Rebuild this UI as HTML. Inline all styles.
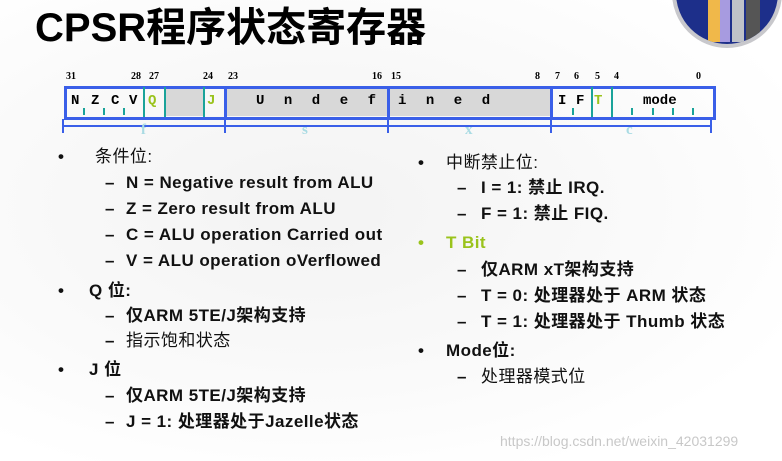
<!DOCTYPE html>
<html><head><meta charset="utf-8"><style>
body{margin:0;width:782px;height:461px;overflow:hidden;background:#fff;position:relative;font-family:"Liberation Sans","Noto Sans CJK SC",sans-serif;}
.a{position:absolute;white-space:nowrap;}
.t{font-size:17px;letter-spacing:0.45px;font-weight:bold;color:#111;line-height:20px;}
.n{font-family:"Liberation Serif",serif;font-size:10px;font-weight:bold;top:71px;}
.c{font-family:"Liberation Mono",monospace;font-size:14px;font-weight:bold;top:93px;}
.tk{position:absolute;width:2px;height:7px;background:#1aa39a;top:108px;}
.vl{position:absolute;width:2px;height:30px;background:#1aa39a;top:87px;}
.bl{position:absolute;width:3px;height:32px;background:#3a5fe8;top:86px;}
.fl{font-family:"Liberation Serif",serif;font-size:15px;font-weight:bold;color:#a9dbe3;top:122px;line-height:16px;}
</style></head><body>
<div style="position:absolute;left:0;top:0;width:782px;height:461px;background:radial-gradient(ellipse at 40% 45%,#f3f3f3 0%,#fafafa 50%,#fff 80%);"></div>
<div style="position:absolute;left:672px;top:-62px;width:102px;height:102px;border-radius:50%;background:#1d2f8a;border:4px solid #c8c8cc;overflow:hidden;">
<div style="position:absolute;left:32px;top:0;width:12px;height:100px;background:#f0b84a"></div>
<div style="position:absolute;left:44px;top:0;width:10px;height:100px;background:#a79be0"></div>
<div style="position:absolute;left:56px;top:0;width:12px;height:100px;background:#bfc2c8"></div>
<div style="position:absolute;left:70px;top:0;width:14px;height:100px;background:#555"></div>
</div>
<div class="a" style="left:35px;top:4px;font-size:40px;font-weight:bold;color:#000;line-height:48px;">CPSR程序状态寄存器</div>

<div style="position:absolute;left:165px;top:88px;width:39px;height:28px;background:#d8d8d8"></div>
<div style="position:absolute;left:227px;top:88px;width:325px;height:28px;background:#d8d8d8"></div>
<div style="position:absolute;left:64px;top:86px;width:646px;height:28px;border:3px solid #3a5fe8;"></div>
<div class="bl" style="left:224px"></div><div class="bl" style="left:387px"></div><div class="bl" style="left:550px"></div>
<div class="vl" style="left:143px"></div><div class="vl" style="left:164px"></div><div class="vl" style="left:203px"></div><div class="vl" style="left:591px"></div><div class="vl" style="left:611px"></div>
<div class="tk" style="left:83px"></div><div class="tk" style="left:103px"></div><div class="tk" style="left:123px"></div>
<div class="tk" style="left:572px"></div><div class="tk" style="left:631px"></div><div class="tk" style="left:652px"></div><div class="tk" style="left:672px"></div><div class="tk" style="left:692px"></div>

<div class="a n" style="left:66px">31</div><div class="a n" style="left:131px">28</div><div class="a n" style="left:149px">27</div><div class="a n" style="left:203px">24</div><div class="a n" style="left:228px">23</div><div class="a n" style="left:372px">16</div><div class="a n" style="left:391px">15</div><div class="a n" style="left:535px">8</div><div class="a n" style="left:555px">7</div><div class="a n" style="left:574px">6</div><div class="a n" style="left:595px">5</div><div class="a n" style="left:614px">4</div><div class="a n" style="left:696px">0</div>

<div class="a c" style="left:71px">N</div><div class="a c" style="left:91px">Z</div><div class="a c" style="left:111px">C</div><div class="a c" style="left:129px">V</div><div class="a c" style="left:148px;color:#9ac31c">Q</div><div class="a c" style="left:207px;color:#9ac31c">J</div>
<div class="a c" style="left:256px;letter-spacing:19.5px">Undef</div>
<div class="a c" style="left:398px;letter-spacing:19.5px">ined</div>
<div class="a c" style="left:558px">I</div><div class="a c" style="left:576px">F</div><div class="a c" style="left:594px;color:#9ac31c">T</div><div class="a c" style="left:643px">mode</div>

<div style="position:absolute;left:62px;top:125px;width:650px;height:2px;background:#3a5fe8"></div>
<div style="position:absolute;left:62px;top:119px;width:2px;height:14px;background:#3a5fe8"></div>
<div style="position:absolute;left:224px;top:119px;width:2px;height:14px;background:#3a5fe8"></div>
<div style="position:absolute;left:387px;top:119px;width:2px;height:14px;background:#3a5fe8"></div>
<div style="position:absolute;left:550px;top:119px;width:2px;height:14px;background:#3a5fe8"></div>
<div style="position:absolute;left:710px;top:119px;width:2px;height:14px;background:#3a5fe8"></div>
<div class="a fl" style="left:141px">f</div><div class="a fl" style="left:302px">s</div><div class="a fl" style="left:465px">x</div><div class="a fl" style="left:626px">c</div>

<div class="a t" style="left:58px;top:147px">•</div><div class="a t" style="left:95px;top:147px;font-weight:normal">条件位:</div>
<div class="a t" style="left:105px;top:173px">–</div><div class="a t" style="left:126px;top:173px">N = Negative result from ALU</div>
<div class="a t" style="left:105px;top:199px">–</div><div class="a t" style="left:126px;top:199px">Z = Zero result from ALU</div>
<div class="a t" style="left:105px;top:225px">–</div><div class="a t" style="left:126px;top:225px">C = ALU operation Carried out</div>
<div class="a t" style="left:105px;top:251px">–</div><div class="a t" style="left:126px;top:251px">V = ALU operation oVerflowed</div>
<div class="a t" style="left:58px;top:281px">•</div><div class="a t" style="left:89px;top:281px">Q 位:</div>
<div class="a t" style="left:105px;top:306px">–</div><div class="a t" style="left:126px;top:306px">仅ARM 5TE/J架构支持</div>
<div class="a t" style="left:105px;top:331px">–</div><div class="a t" style="left:126px;top:331px;font-weight:normal">指示饱和状态</div>
<div class="a t" style="left:58px;top:360px">•</div><div class="a t" style="left:89px;top:360px">J 位</div>
<div class="a t" style="left:105px;top:386px">–</div><div class="a t" style="left:126px;top:386px">仅ARM 5TE/J架构支持</div>
<div class="a t" style="left:105px;top:412px">–</div><div class="a t" style="left:126px;top:412px">J = 1:  处理器处于Jazelle状态</div>

<div class="a t" style="left:418px;top:153px">•</div><div class="a t" style="left:446px;top:153px;font-weight:normal">中断禁止位:</div>
<div class="a t" style="left:457px;top:178px">–</div><div class="a t" style="left:481px;top:178px">I = 1: 禁止  IRQ.</div>
<div class="a t" style="left:457px;top:204px">–</div><div class="a t" style="left:481px;top:204px">F = 1: 禁止  FIQ.</div>
<div class="a t" style="left:418px;top:233px;color:#9ac31c">•</div><div class="a t" style="left:446px;top:233px;color:#9ac31c">T Bit</div>
<div class="a t" style="left:457px;top:260px">–</div><div class="a t" style="left:481px;top:260px">仅ARM  xT架构支持</div>
<div class="a t" style="left:457px;top:286px">–</div><div class="a t" style="left:481px;top:286px">T = 0: 处理器处于 ARM 状态</div>
<div class="a t" style="left:457px;top:312px">–</div><div class="a t" style="left:481px;top:312px">T = 1: 处理器处于 Thumb 状态</div>
<div class="a t" style="left:418px;top:341px">•</div><div class="a t" style="left:446px;top:341px">Mode位:</div>
<div class="a t" style="left:457px;top:367px">–</div><div class="a t" style="left:481px;top:367px;font-weight:normal">处理器模式位</div>

<div class="a" style="left:500px;top:433px;font-size:14px;color:#c8c8c8">https://blog.csdn.net/weixin_42031299</div>
</body></html>
